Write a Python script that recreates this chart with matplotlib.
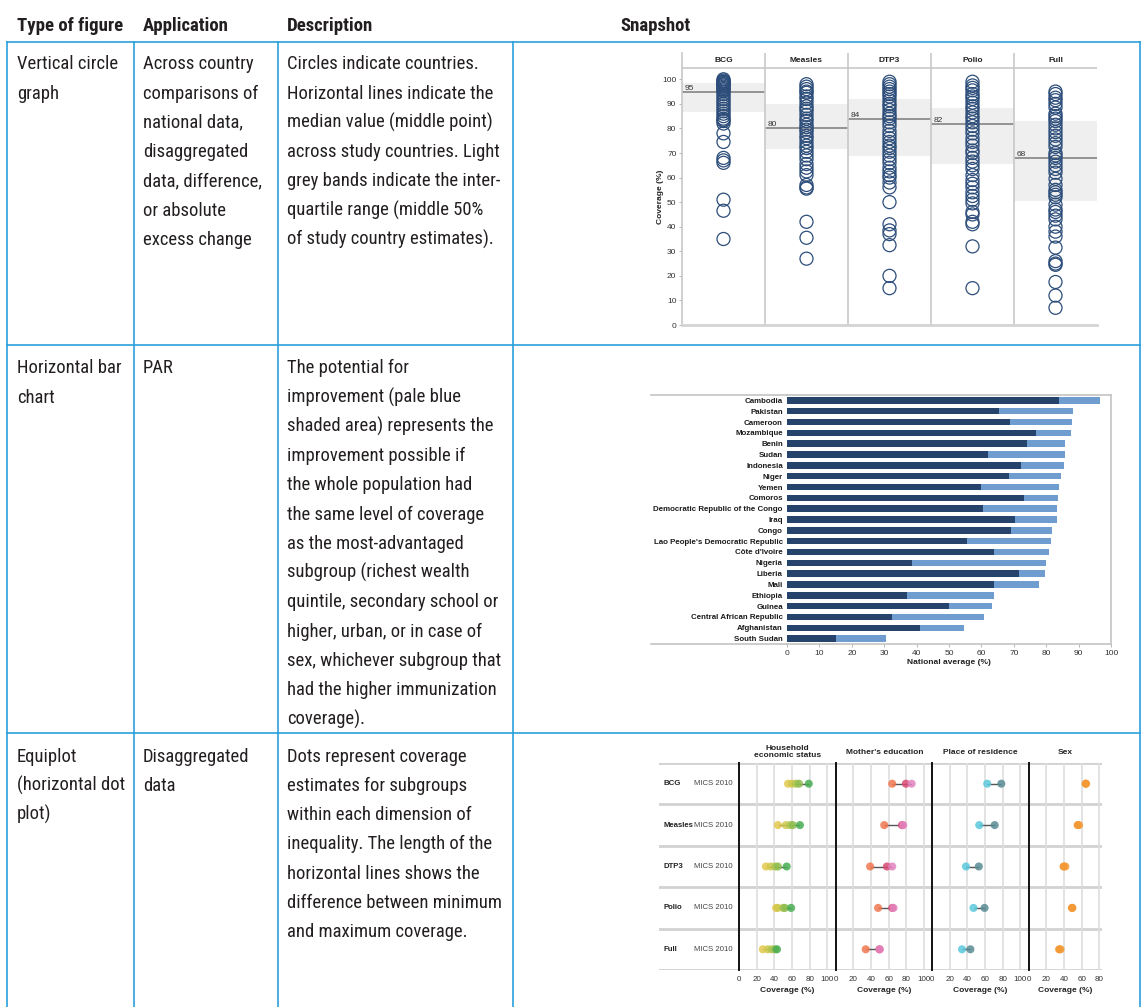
import matplotlib
matplotlib.use('Agg')
import matplotlib.pyplot as plt
import numpy as np
from matplotlib import font_manager
from matplotlib.lines import Line2D

W, H = 1142, 1007

# ---- snapshot 1: vertical circle graph (coverage % by country)
vaccines = ['BCG', 'Measles', 'DTP3', 'Polio', 'Full']
bcg = [100, 99.5, 99, 99, 98.5, 98, 98, 97.5, 97, 96.5, 96, 95.5, 95, 94, 93, 92, 91,
       90, 89, 88, 87, 86, 85, 84, 83.5, 83, 82, 78, 74.5, 68, 67, 66, 51, 46.5, 35]
measles = [98, 97, 96, 95, 94.5, 93, 92, 90.5, 89, 88, 87, 85.5, 84, 83, 81.5, 80.5, 79.5,
           78.5, 77, 76, 74.5, 73, 72, 70.5, 69, 67.5, 65.5, 64, 62.5, 61, 57, 56, 55.5,
           42, 35.5, 27]
dtp3 = [99, 98, 97, 96, 95, 94, 93, 91.5, 90, 89, 87.5, 86, 85, 84, 82.5, 81, 79, 77.5,
        76, 74.5, 73, 72, 70.5, 69, 67.5, 66, 64, 62.5, 61, 60, 58, 56, 50, 41, 38.5, 37,
        32.5, 20, 15]
polio = [99, 97.5, 96.5, 95.5, 94, 93, 92, 90.5, 89, 88, 86.5, 85, 84, 82.5, 81, 79.5, 78,
         76, 74.5, 73, 71, 70, 68, 66.5, 65, 63.5, 61, 59, 57.5, 56, 54, 52.5, 51, 49.5,
         46, 45, 42, 41, 32, 15]
full = [95, 94, 92.5, 91.5, 90, 88.5, 86, 85, 84, 83, 81.5, 80, 78.5, 77, 75.5, 74, 72.5,
        70, 69, 68, 66.5, 65, 63.5, 62, 59.5, 57, 55, 54, 53, 52, 49, 47, 46, 44.5, 43,
        40, 38, 36, 31.5, 26, 25, 24.5, 17.5, 12, 7]
circle_vals = [bcg, measles, dtp3, polio, full]
medians = [95, 80, 84, 82, 68]
iqr_lo = [86.7, 71.5, 68.8, 65.4, 50.3]
iqr_hi = [98.4, 89.8, 91.9, 88.5, 82.9]

# ---- snapshot 2: national average vs best subgroup (PAR)
countries = ['Cambodia', 'Pakistan', 'Cameroon', 'Mozambique', 'Benin', 'Sudan',
             'Indonesia', 'Niger', 'Yemen', 'Comoros',
             'Democratic Republic of the Congo', 'Iraq', 'Congo',
             "Lao People's Democratic Republic", "Côte d'Ivoire", 'Nigeria', 'Liberia',
             'Mali', 'Ethiopia', 'Guinea', 'Central African Republic', 'Afghanistan',
             'South Sudan']
national = [84.0, 65.5, 68.9, 77.0, 74.2, 62.1, 72.3, 68.6, 60.0, 73.3, 60.6, 70.5, 69.2,
            55.7, 64.0, 38.7, 71.7, 64.0, 37.1, 50.1, 32.5, 41.2, 15.2]
best = [96.7, 88.3, 88.1, 87.7, 85.8, 85.8, 85.5, 84.6, 84.0, 83.6, 83.3, 83.3, 81.8,
        81.5, 80.9, 79.9, 79.6, 77.8, 63.9, 63.3, 60.8, 54.6, 30.6]

# ---- snapshot 3: equiplot (MICS 2010)
rows = ['BCG', 'Measles', 'DTP3', 'Polio', 'Full']
survey = 'MICS 2010'
wealth = [[55.5, 60, 64.5, 68, 79], [44, 53, 58, 61, 69], [30.5, 36, 41, 44, 54],
          [42, 44, 50, 52, 59], [27, 32.5, 37, 41, 43]]
educ = [[64, 79.5, 86], [55, 75, 76.5], [39, 58, 64], [48, 64, 65.5], [34, 49.5, 50]]
resid = [[62.5, 78.5], [53.5, 71], [38.5, 53], [47, 59.5], [34, 43.5]]
sex = [[64.5, 65], [55.5, 57], [39.5, 41.5], [49, 49.5], [34.5, 36]]
dims = ['Household\neconomic status', "Mother's education", 'Place of residence', 'Sex']

# pick a narrow font for the table text
installed = {f.name for f in font_manager.fontManager.ttflist}
cond = 'Liberation Sans'
for cand in ['Liberation Sans Narrow', 'Roboto Condensed', 'Open Sans Condensed',
             'DejaVu Sans Condensed']:
    if cand in installed:
        cond = cand
        break
plt.rcParams['font.family'] = ['Liberation Sans', 'DejaVu Sans']

fig = plt.figure(figsize=(W / 100, H / 100), dpi=100)


def px_axes(x0, y0, x1, y1):
    return fig.add_axes([x0 / W, 1 - y1 / H, (x1 - x0) / W, (y1 - y0) / H])


def ftext(x, y, s, **kw):
    fig.text(x / W, 1 - y / H, s, **kw)


def fline(xs, ys, **kw):
    fig.add_artist(Line2D([x / W for x in xs], [1 - y / H for y in ys],
                          transform=fig.transFigure, **kw))


# table grid
blue = '#2ba0da'
for yy in [42, 345, 733]:
    fline([7, 1140], [yy, yy], color=blue, lw=1.2)
for xx in [7, 134, 277.7, 513.3, 1140]:
    fline([xx, xx], [42, 1007], color=blue, lw=1.2)

# header
txt = '#231f20'
for x, s in [(17, 'Type of figure'), (143, 'Application'), (287, 'Description'),
             (620, 'Snapshot')]:
    ftext(x, 31, s, family=cond, fontweight='bold', fontsize=13.5, color=txt,
          va='baseline')

cells = [
    (69.3, ['Vertical circle', 'graph'],
     ['Across country', 'comparisons of', 'national data,', 'disaggregated',
      'data, difference,', 'or absolute', 'excess change'],
     ['Circles indicate countries.', 'Horizontal lines indicate the',
      'median value (middle point)', 'across study countries. Light',
      'grey bands indicate the inter-', 'quartile range (middle 50%',
      'of study country estimates).']),
    (373.3, ['Horizontal bar', 'chart'], ['PAR'],
     ['The potential for', 'improvement (pale blue', 'shaded area) represents the',
      'improvement possible if', 'the whole population had', 'the same level of coverage',
      'as the most-advantaged', 'subgroup (richest wealth', 'quintile, secondary school or',
      'higher, urban, or in case of', 'sex, whichever subgroup that',
      'had the higher immunization', 'coverage).']),
    (761.7, ['Equiplot', '(horizontal dot', 'plot)'], ['Disaggregated', 'data'],
     ['Dots represent coverage', 'estimates for subgroups', 'within each dimension of',
      'inequality. The length of the', 'horizontal lines shows the',
      'difference between minimum', 'and maximum coverage.']),
]
for base, c1, c2, c3 in cells:
    for x, lines in [(17, c1), (143, c2), (287, c3)]:
        for k, s in enumerate(lines):
            ftext(x, base + k * 29.25, s, family=cond, fontsize=13.4, color=txt,
                  va='baseline')

# ---------- snapshot 1
grey = '#c8c8c8'
ax = px_axes(682, 53, 1097, 325)
ax.set_xlim(0, 5)
ax.set_ylim(0, 110.7)
for i, vals in enumerate(circle_vals):
    ax.fill_between([i, i + 1], iqr_lo[i], iqr_hi[i], color='#efefef', lw=0, zorder=0)
    ax.hlines(medians[i], i, i + 1, color='#8c8c8c', lw=1.3, zorder=1)
    ax.text(i + 0.03, medians[i] + 0.8, str(medians[i]), fontsize=6, color='#333333')
    ax.scatter(np.full(len(vals), i + 0.5), vals, s=88, facecolors='none',
               edgecolors='#2c4d7a', linewidths=0.9, zorder=3, clip_on=False)
    ax.text(i + 0.5, 107.6, vaccines[i], ha='center', va='center', fontsize=6,
            fontweight='bold', color='#222222')
for i in range(1, 5):
    ax.axvline(i, color=grey, lw=1.2)
ax.axhline(104.6, color=grey, lw=1.2)
ax.spines['top'].set_visible(False)
ax.spines['right'].set_visible(False)
ax.spines['left'].set_color(grey)
ax.spines['left'].set_linewidth(1.2)
ax.spines['bottom'].set_color('#d4d4d4')
ax.spines['bottom'].set_linewidth(2)
ax.set_xticks([])
ax.set_yticks(range(0, 101, 10))
ax.tick_params(axis='y', labelsize=6, length=2, width=0.6, color='#aaaaaa',
               labelcolor='#333333', pad=2)
ftext(660, 197, 'Coverage (%)', rotation=90, ha='center', va='center', fontsize=6,
      fontweight='bold', color='#222222')

# ---------- snapshot 2
ax2 = px_axes(787, 395, 1111, 644)
yy = np.arange(len(countries))
ax2.barh(yy, best, height=0.6, color='#6f9dd0')
ax2.barh(yy, national, height=0.6, color='#26436b')
ax2.set_ylim(len(countries) - 0.5, -0.5)
ax2.set_xlim(0, 100)
ax2.set_yticks(yy)
ax2.set_yticklabels(countries, fontsize=5.7, fontweight='bold', color='#1a1a1a')
ax2.tick_params(axis='y', length=0, pad=3)
ax2.set_xticks(range(0, 101, 10))
ax2.tick_params(axis='x', labelsize=6, length=2, width=0.6, color='#aaaaaa',
                labelcolor='#333333', pad=2)
ax2.set_xlabel('National average (%)', fontsize=6, fontweight='bold', color='#222222',
               labelpad=2)
ax2.spines['left'].set_visible(False)
for s in ['top', 'bottom', 'right']:
    ax2.spines[s].set_color('#c4c4c4')
    ax2.spines[s].set_linewidth(1.2)
xl = (651 - 787) / (1111 - 787)
for yv in [0, 1]:
    ax2.plot([xl, 0], [yv, yv], transform=ax2.transAxes, color='#c4c4c4', lw=1.2,
             clip_on=False)

# ---------- snapshot 3
bg = px_axes(659, 763, 1102, 970)
bg.set_xlim(0, 1)
bg.set_ylim(4.5, -0.5)
bg.axis('off')
for r in range(6):
    bg.axhline(r - 0.5, color='#d2d2d2', lw=2, zorder=0)
for r, name in enumerate(rows):
    bg.text((663 - 659) / 443, r, name, va='center', fontsize=5.6, fontweight='bold',
            color='#222222')
    bg.text((694 - 659) / 443, r, survey, va='center', fontsize=5.6, color='#444444')

groups = [wealth, educ, resid, sex]
palettes = [['#e3c84c', '#cfc94d', '#b2c44f', '#8dbd50', '#48ad52'],
            ['#f0774f', '#d94a72', '#e384c0'],
            ['#5bc8dc', '#5a8c94'],
            ['#f28a1e', '#f39a36']]
lefts = [739, 835.7, 932, 1028.7]
xmaxs = [110, 110, 110, 83]
scale = 0.883
for p in range(4):
    axp = px_axes(lefts[p], 763, lefts[p] + xmaxs[p] * scale, 970)
    axp.patch.set_alpha(0)
    axp.set_xlim(0, xmaxs[p])
    axp.set_ylim(4.5, -0.5)
    ticks = list(range(0, 101, 20)) if xmaxs[p] > 100 else list(range(0, 81, 20))
    for t in ticks[1:]:
        axp.axvline(t, color='#dedede', lw=1.2, zorder=0)
    for r in range(5):
        vals = groups[p][r]
        axp.hlines(r, min(vals), max(vals), color='#555555', lw=1, zorder=2)
        axp.scatter(vals, [r] * len(vals), c=palettes[p], s=34, alpha=0.85,
                    linewidths=0, zorder=3)
    for s in ['top', 'right', 'bottom']:
        axp.spines[s].set_visible(False)
    axp.spines['left'].set_color('#111111')
    axp.spines['left'].set_linewidth(1.4)
    axp.set_yticks([])
    axp.set_xticks(ticks)
    axp.tick_params(axis='x', labelsize=5.8, length=0, labelcolor='#333333', pad=4)
    axp.set_xlabel('Coverage (%)', fontsize=6, fontweight='bold', color='#222222',
                   labelpad=3)
    cx = lefts[p] + xmaxs[p] * scale / 2
    ftext(cx, 752, dims[p], ha='center', va='center', fontsize=6, fontweight='bold',
          color='#222222', linespacing=1.1)

fig.savefig('out.png', dpi=100)
